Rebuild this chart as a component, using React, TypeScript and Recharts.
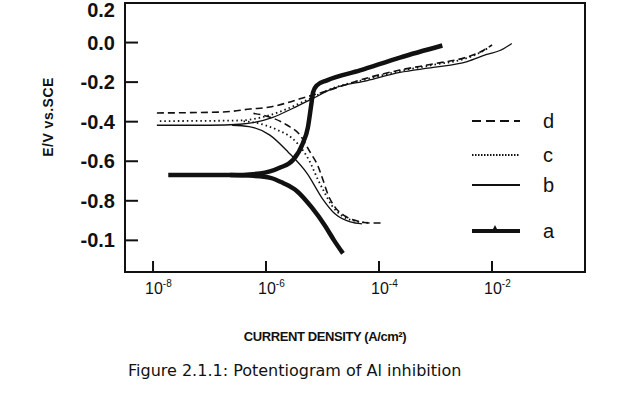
import { Line, LineChart, XAxis, YAxis } from "recharts";

// current density (A/cm2), potential (V vs SCE)
const curveAAnodic = [
  [1.86e-8, -0.67], [2.3e-7, -0.67], [7.8e-7, -0.662], [1.78e-6, -0.632], [3.0e-6, -0.594],
  [4.47e-6, -0.51], [5.5e-6, -0.43], [6.3e-6, -0.317], [6.8e-6, -0.252], [7.9e-6, -0.217],
  [1.2e-5, -0.191], [4.6e-5, -0.141], [2.34e-4, -0.076], [1.32e-3, -0.015],
];
const curveACathodic = [
  [2.3e-7, -0.67], [6e-7, -0.674], [1.2e-6, -0.684], [2.0e-6, -0.71], [3.5e-6, -0.75],
  [6.5e-6, -0.835], [1.1e-5, -0.925], [1.6e-5, -1.0], [2.3e-5, -1.066],
];
const curveBAnodic = [
  [1.17e-8, -0.418], [1e-7, -0.418], [3.47e-7, -0.413], [1.32e-6, -0.378], [3.0e-6, -0.332],
  [6.8e-6, -0.282], [1.55e-5, -0.232], [6.2e-5, -0.192], [2.34e-4, -0.151], [9.1e-4, -0.126],
  [3.63e-3, -0.096], [8.1e-3, -0.06], [1.38e-2, -0.04], [2.24e-2, -0.005],
];
const curveBCathodic = [
  [2.5e-7, -0.418], [5e-7, -0.425], [1.17e-6, -0.468], [2.45e-6, -0.553], [5.4e-6, -0.664],
  [9.8e-6, -0.786], [1.66e-5, -0.866], [3.1e-5, -0.907], [5.0e-5, -0.917],
];
const curveCAnodic = [
  [1.32e-8, -0.397], [3.47e-7, -0.394], [9.5e-7, -0.374], [2.19e-6, -0.339], [4.9e-6, -0.295],
  [1.55e-5, -0.23], [6.2e-5, -0.185], [2.34e-4, -0.144], [9.1e-4, -0.113], [3.63e-3, -0.078],
  [6.9e-3, -0.043], [9.1e-3, -0.022],
];
const curveCCathodic = [
  [4e-7, -0.398], [5.9e-7, -0.403], [1.62e-6, -0.443], [2.88e-6, -0.483], [4.47e-6, -0.544],
  [6.0e-6, -0.604], [7.9e-6, -0.68], [1.07e-5, -0.755], [1.48e-5, -0.826], [2.24e-5, -0.877],
  [3.8e-5, -0.902], [6.5e-5, -0.912],
];
const curveDAnodic = [
  [1.17e-8, -0.356], [1.74e-7, -0.351], [5.2e-7, -0.336], [1.17e-6, -0.326], [2.34e-6, -0.305],
  [4.47e-6, -0.28], [9.1e-6, -0.255], [6.2e-5, -0.179], [2.34e-4, -0.139], [9.1e-4, -0.108],
  [3.63e-3, -0.073], [6.2e-3, -0.048], [1e-2, -0.012],
];
const curveDCathodic = [
  [6e-7, -0.358], [8.5e-7, -0.366], [2.34e-6, -0.417], [3.98e-6, -0.467], [6.0e-6, -0.553],
  [8.3e-6, -0.624], [1.02e-5, -0.695], [1.26e-5, -0.771], [1.66e-5, -0.832], [2.5e-5, -0.877],
  [4.1e-5, -0.902], [6.9e-5, -0.912], [1.12e-4, -0.912],
];

const xTicks = [1e-8, 1e-6, 1e-4, 1e-2];
const xTickExponents = ["-8", "-6", "-4", "-2"];
const yTicks = [0.2, 0, -0.2, -0.4, -0.6, -0.8, -1.0];
const yTickLabels = ["0.2", "0.0", "-0.2", "-0.4", "-0.6", "-0.8", "-0.1"];
const legendNames = ["d", "c", "b", "a"];

const toRows = (pts: number[][]) => pts.map(([i, e]) => ({ i, e }));

const PLOT_LEFT = 125;
const PLOT_TOP = 3;
const PLOT_RIGHT = 585;
const PLOT_BOTTOM = 272;
const INK = "#111";
const SANS = "'Liberation Sans', Arial, sans-serif";

function YTick({ y, payload }: any) {
  const idx = yTicks.findIndex((t) => Math.abs(t - payload.value) < 1e-9);
  const ty = Math.max(y, 10);
  return (
    <g>
      {idx > 0 && <line x1={PLOT_LEFT} x2={PLOT_LEFT + 13} y1={y} y2={y} stroke={INK} strokeWidth={2} />}
      <text x={115} y={ty + 7} textAnchor="end" fontSize={20} fontWeight="bold" fill={INK} fontFamily={SANS}>
        {yTickLabels[idx]}
      </text>
    </g>
  );
}

function XTick({ x, payload }: any) {
  const idx = xTicks.findIndex((t) => Math.abs(t - payload.value) / t < 1e-6);
  return (
    <g>
      <line x1={x} x2={x} y1={PLOT_BOTTOM} y2={PLOT_BOTTOM - 11} stroke={INK} strokeWidth={2} />
      <text x={x - 8} y={294} fontSize={16} fill={INK} fontFamily={SANS}>
        10
        <tspan dy={-7} fontSize={10}>{xTickExponents[idx]}</tspan>
      </text>
    </g>
  );
}

const lineProps = {
  type: "monotone" as const,
  dataKey: "e",
  dot: false,
  activeDot: false,
  isAnimationActive: false,
  stroke: INK,
};

export default function App() {
  return (
    <div style={{ position: "absolute", left: 0, top: 0, width: 634, height: 395, background: "#fff" }}>
      <LineChart width={634} height={395} margin={{ top: PLOT_TOP, right: 634 - PLOT_RIGHT, bottom: 0, left: 0 }}>
        <XAxis
          dataKey="i"
          type="number"
          scale="log"
          domain={[3.19e-9, 0.4426]}
          allowDataOverflow
          ticks={xTicks}
          interval={0}
          tick={<XTick />}
          tickLine={false}
          axisLine={{ stroke: INK, strokeWidth: 2 }}
          height={395 - PLOT_BOTTOM}
        />
        <YAxis
          type="number"
          domain={[-1.16, 0.2]}
          allowDataOverflow
          ticks={yTicks}
          interval={0}
          tick={<YTick />}
          tickLine={false}
          axisLine={{ stroke: INK, strokeWidth: 2 }}
          width={PLOT_LEFT}
        />
        <Line {...lineProps} data={toRows(curveDAnodic)} strokeWidth={1.6} strokeDasharray="7 4" />
        <Line {...lineProps} data={toRows(curveDCathodic)} strokeWidth={1.6} strokeDasharray="7 4" />
        <Line {...lineProps} data={toRows(curveCAnodic)} strokeWidth={1.8} strokeDasharray="1.5 3" />
        <Line {...lineProps} data={toRows(curveCCathodic)} strokeWidth={1.8} strokeDasharray="1.5 3" />
        <Line {...lineProps} data={toRows(curveBAnodic)} strokeWidth={1.3} />
        <Line {...lineProps} data={toRows(curveBCathodic)} strokeWidth={1.3} />
        <Line {...lineProps} data={toRows(curveAAnodic)} strokeWidth={4.5} />
        <Line {...lineProps} data={toRows(curveACathodic)} strokeWidth={4.5} />
      </LineChart>

      <svg width={634} height={395} style={{ position: "absolute", left: 0, top: 0, pointerEvents: "none" }}>
        <rect
          x={PLOT_LEFT}
          y={PLOT_TOP}
          width={PLOT_RIGHT - PLOT_LEFT}
          height={PLOT_BOTTOM - PLOT_TOP}
          fill="none"
          stroke={INK}
          strokeWidth={2}
        />
        <text transform="translate(53,117) rotate(-90)" textAnchor="middle" fontSize={14} fontWeight="bold" fill={INK} fontFamily={SANS} letterSpacing={0.5}>
          E/V  vs.SCE
        </text>
        {legendNames.map((name, k) => {
          const y = [121, 155, 185, 231][k];
          return (
            <g key={name}>
              <line
                x1={472}
                x2={520}
                y1={y}
                y2={y}
                stroke={INK}
                strokeWidth={[2, 1.8, 1.8, 4][k]}
                strokeDasharray={["9 5", "1.5 1.5", undefined, undefined][k]}
              />
              {name === "a" && <polygon points={`${492},${y} ${498},${y} ${495},${y - 6}`} fill={INK} />}
              <text x={543} y={y + 7} fontSize={20} fill={INK} fontFamily={SANS}>{name}</text>
            </g>
          );
        })}
        <text x={325} y={341} textAnchor="middle" fontSize={13} fontWeight="bold" fill={INK} fontFamily={SANS} letterSpacing={-0.4}>
          CURRENT DENSITY (A/cm²)
        </text>
        <text x={128} y={376} fontSize={16} fill={INK} fontFamily="'DejaVu Sans', sans-serif">
          Figure 2.1.1: Potentiogram of Al inhibition
        </text>
      </svg>
    </div>
  );
}
